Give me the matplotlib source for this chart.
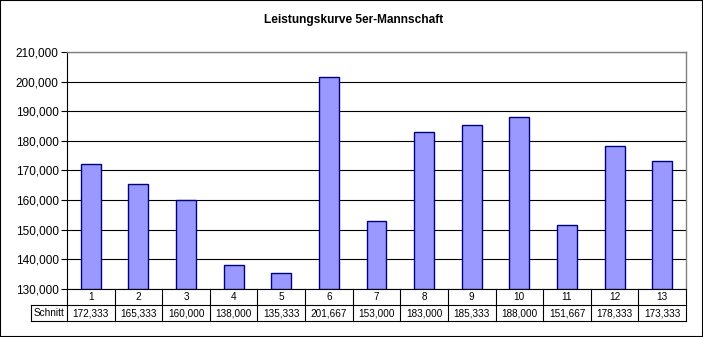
import matplotlib.pyplot as plt
from matplotlib.patches import Rectangle
from matplotlib.transforms import blended_transform_factory

plt.rcParams['font.family'] = ['Liberation Sans', 'DejaVu Sans']

# Spieltage und Schnitt der 5er-Mannschaft
spieltage = ['1', '2', '3', '4', '5', '6', '7', '8', '9', '10', '11', '12', '13']
schnitt = [172333, 165333, 160000, 138000, 135333, 201667, 153000,
           183000, 185333, 188000, 151667, 178333, 173333]
reihe = 'Schnitt'
y_ticks = [130000, 140000, 150000, 160000, 170000, 180000, 190000, 200000, 210000]

W, H = 703, 337
fig = plt.figure(figsize=(W / 100, H / 100), dpi=100)
ax = fig.add_axes([67 / W, 1 - 289 / H, 619 / W, 237 / H])

x = range(len(spieltage))
ax.bar(x, [v - y_ticks[0] for v in schnitt], bottom=y_ticks[0], width=0.42,
       color='#9999ff', edgecolor='#000080', linewidth=1.0, zorder=3)

ax.set_xlim(-0.5, len(spieltage) - 0.5)
ax.set_ylim(y_ticks[0], y_ticks[-1])
ax.set_yticks(y_ticks)
ax.set_yticklabels(['{:,}'.format(v) for v in y_ticks], fontsize=8.5)
ax.set_xticks([])
ax.yaxis.grid(True, color='black', linewidth=0.8, zorder=0)
ax.tick_params(axis='y', length=4, width=0.8, pad=2)

for s in ('top', 'right'):
    ax.spines[s].set_color('#808080')
    ax.spines[s].set_linewidth(1.0)
for s in ('left', 'bottom'):
    ax.spines[s].set_color('black')
    ax.spines[s].set_linewidth(0.8)

fig.text(0.503, 1 - 20 / H, 'Leistungskurve 5er-Mannschaft', fontsize=8.6,
         fontweight='bold', ha='center', va='center')

# Datentabelle unter dem Diagramm
tr = blended_transform_factory(ax.transData, fig.transFigure)
y0, y1, y2 = 1 - 289 / H, 1 - 305 / H, 1 - 321 / H
x_left = -0.5 - 36 / 47.6
x_right = len(spieltage) - 0.5
kw = dict(transform=tr, color='black', linewidth=0.8, clip_on=False)
ax.plot([x_left, x_right], [y1, y1], **kw)
ax.plot([x_left, x_right], [y2, y2], **kw)
ax.plot([x_left, x_left], [y1, y2], **kw)
for i in range(len(spieltage) + 1):
    ax.plot([i - 0.5, i - 0.5], [y0, y2], **kw)

for i, (t, v) in enumerate(zip(spieltage, schnitt)):
    ax.text(i, (y0 + y1) / 2, t, transform=tr, ha='center', va='center', fontsize=7.2)
    ax.text(i, (y1 + y2) / 2, '{:,}'.format(v), transform=tr, ha='center',
            va='center', fontsize=7.2)
ax.text((x_left - 0.5) / 2, (y1 + y2) / 2, reihe, transform=tr, ha='center',
        va='center', fontsize=7.2)

fig.patches.append(Rectangle((0, 0), 1, 1, transform=fig.transFigure,
                             fill=False, edgecolor='black', linewidth=1.5))

fig.savefig('out.png', dpi=100)
